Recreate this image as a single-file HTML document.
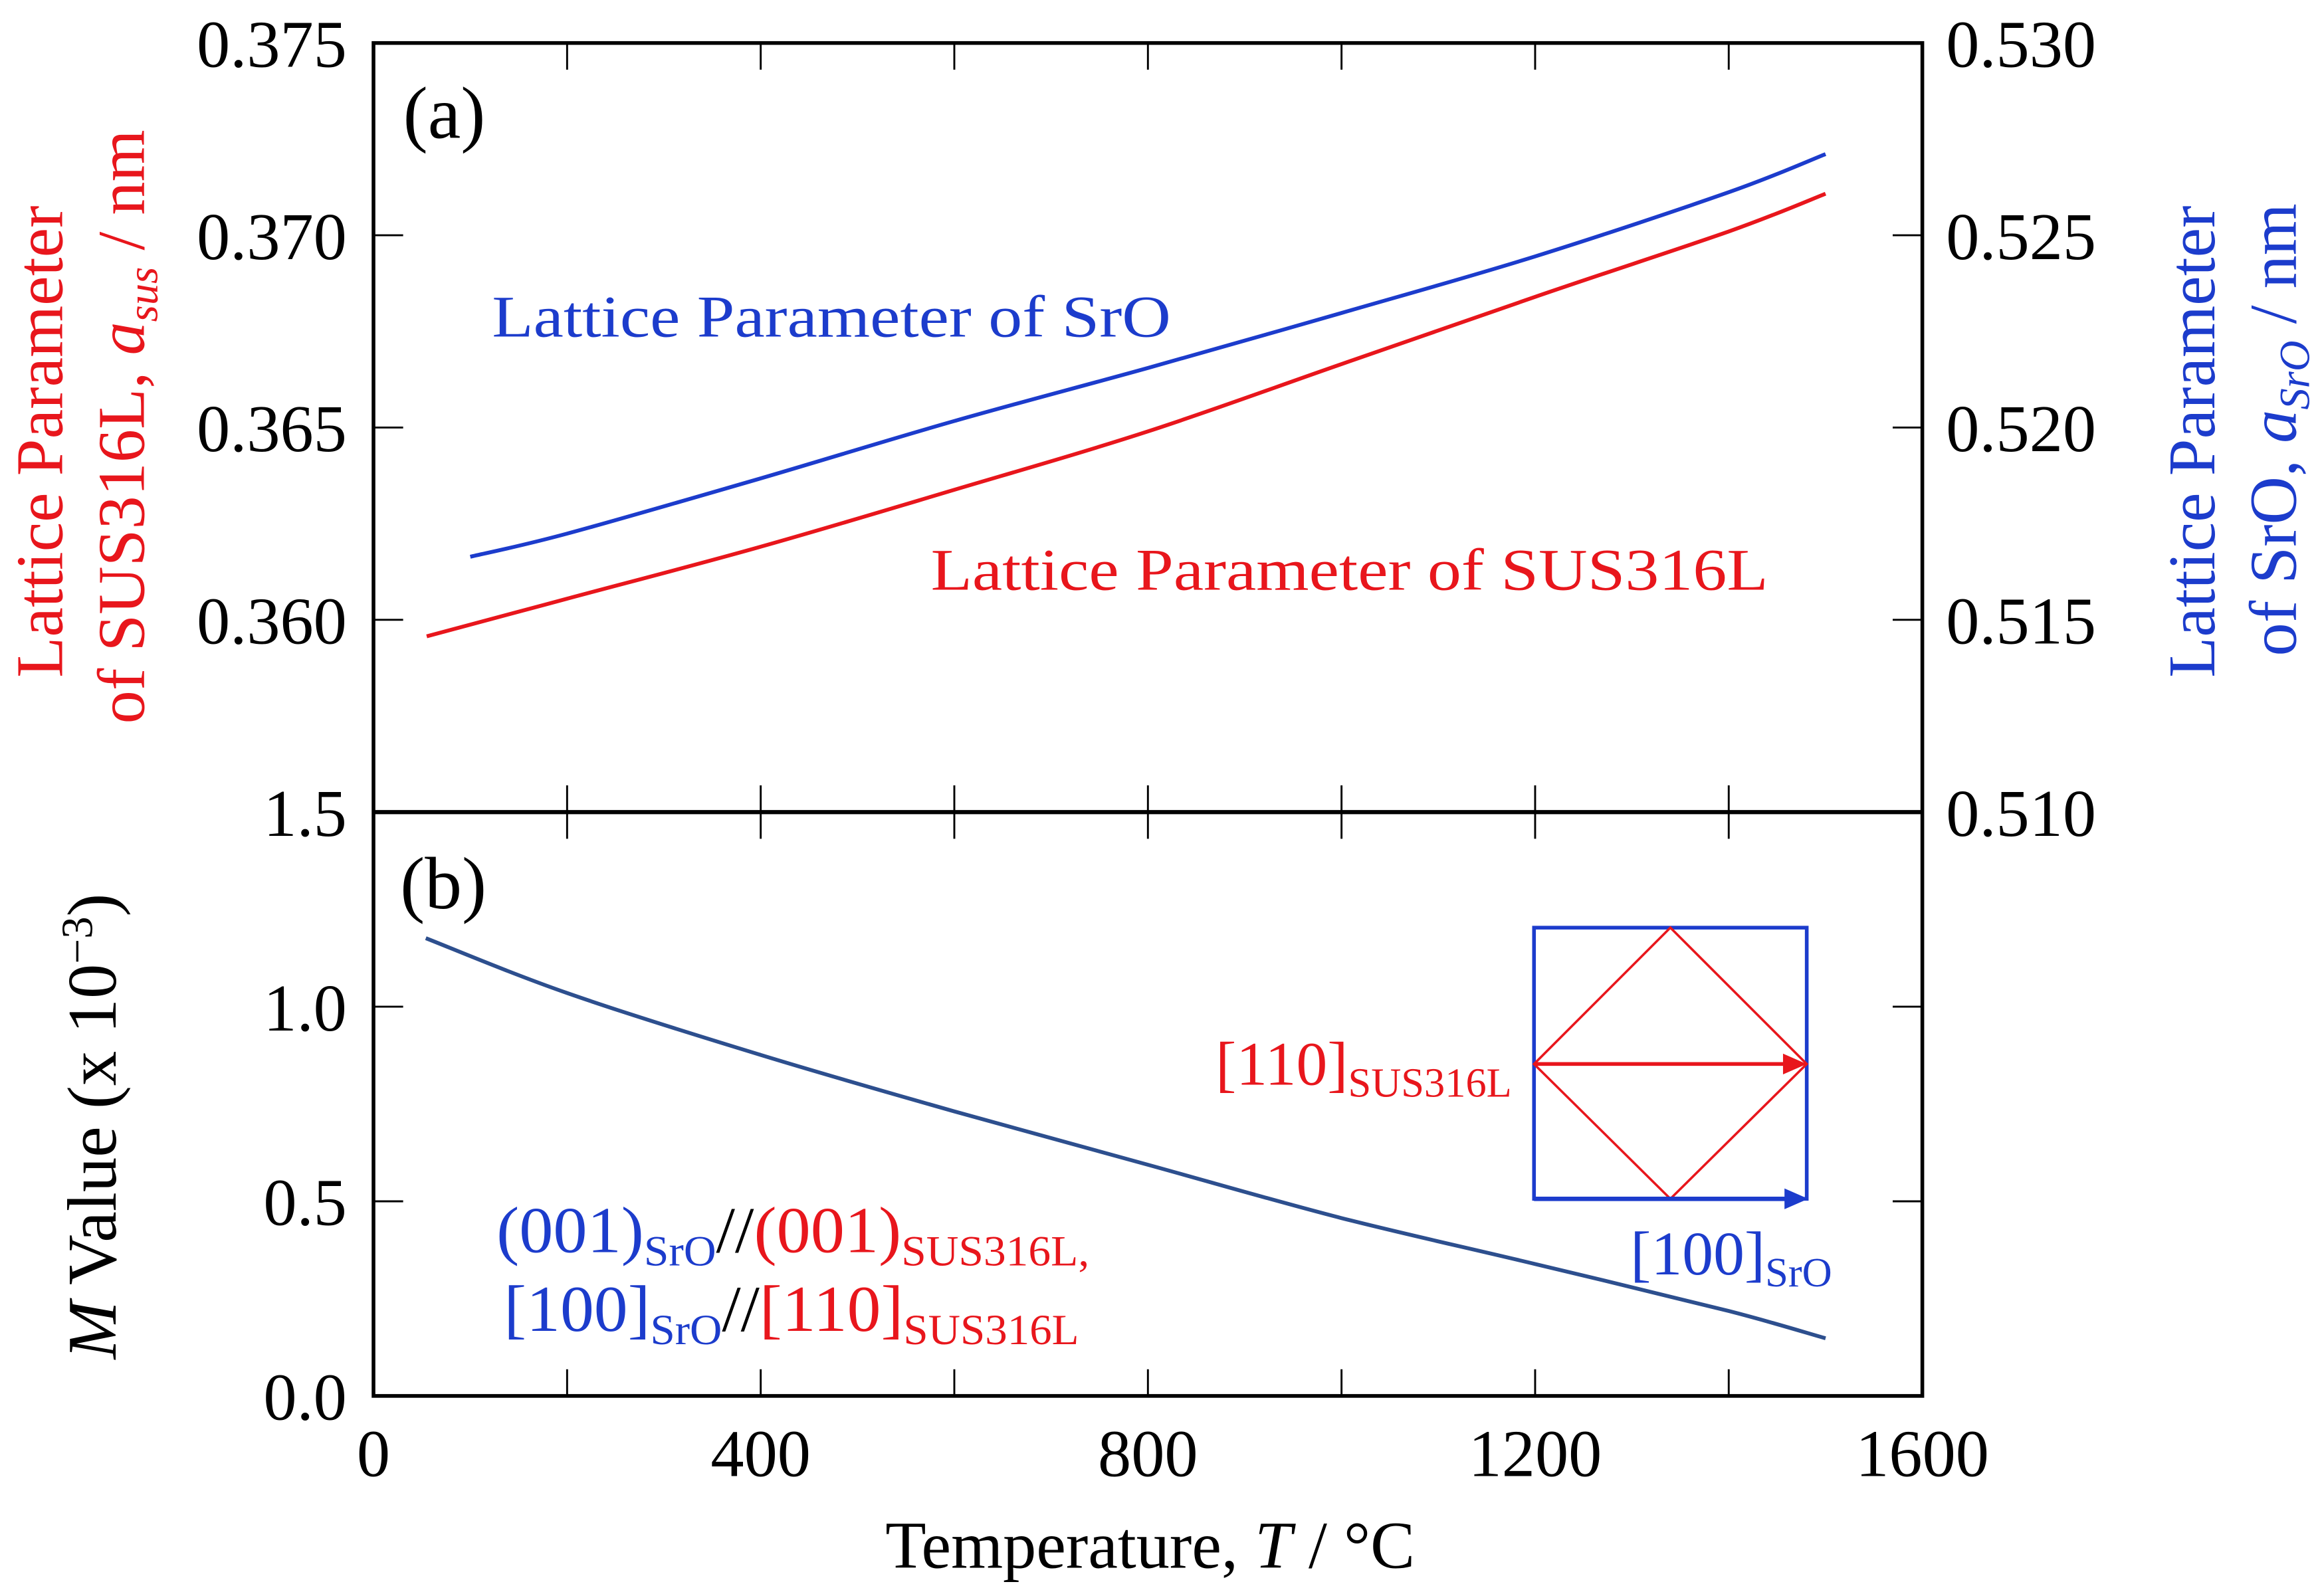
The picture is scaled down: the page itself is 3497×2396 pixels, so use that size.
<!DOCTYPE html>
<html><head><meta charset="utf-8"><style>
html,body{margin:0;padding:0;background:#fff;}
svg{display:block;}
text{font-family:"Liberation Serif",serif;}
</style></head><body>
<svg id="chart" xmlns="http://www.w3.org/2000/svg" width="3497" height="2396" viewBox="0 0 1568 1074.3">
<g id="axes"></g>
<g id="marks"></g>
<g><text x="272" y="93" font-size="50">(a)</text></g>
<g><text x="270" y="613" font-size="50">(b)</text></g>
<text x="332" y="227" font-size="40" textLength="458" lengthAdjust="spacingAndGlyphs" fill="#1c3ccc">Lattice Parameter of SrO</text>
<text x="628" y="398" font-size="40" textLength="565" lengthAdjust="spacingAndGlyphs" fill="#e8161c">Lattice Parameter of SUS316L</text>
<text x="335" y="845" font-size="44" textLength="400" lengthAdjust="spacingAndGlyphs"><tspan fill="#1c3ccc">(001)</tspan><tspan fill="#1c3ccc" font-size="29" dy="9">SrO</tspan><tspan dy="-9">//</tspan><tspan fill="#e8161c">(001)</tspan><tspan fill="#e8161c" font-size="29" dy="9">SUS316L,</tspan></text>
<text x="340" y="898" font-size="44" textLength="388" lengthAdjust="spacingAndGlyphs"><tspan fill="#1c3ccc">[100]</tspan><tspan fill="#1c3ccc" font-size="29" dy="9">SrO</tspan><tspan dy="-9">//</tspan><tspan fill="#e8161c">[110]</tspan><tspan fill="#e8161c" font-size="29" dy="9">SUS316L</tspan></text>
<g>
<rect x="1035" y="626" width="184" height="183" fill="none" stroke="#1c3ccc" stroke-width="2.5"/>
<polygon points="1127,626 1219,718 1127,809 1035,718" fill="none" stroke="#e8161c" stroke-width="1.6"/>
<line x1="1035" y1="718" x2="1207" y2="718" stroke="#e8161c" stroke-width="2.5"/>
<polygon points="1219,718 1203,711 1203,725" fill="#e8161c"/>
<line x1="1035" y1="809" x2="1207" y2="809" stroke="#1c3ccc" stroke-width="3"/>
<polygon points="1220,809 1204,802 1204,816" fill="#1c3ccc"/>
<text x="1020" y="732" font-size="42" text-anchor="end" fill="#e8161c">[110]<tspan font-size="28" dy="8">SUS316L</tspan></text>
<text x="1100" y="860" font-size="42" fill="#1c3ccc">[100]<tspan font-size="28" dy="8">SrO</tspan></text>
</g>
<text transform="translate(42,298) rotate(-90)" font-size="45" text-anchor="middle" fill="#e8161c">Lattice Parameter</text>
<text transform="translate(97,288) rotate(-90)" font-size="45" text-anchor="middle" fill="#e8161c">of SUS316L, <tspan font-style="italic">a</tspan><tspan font-style="italic" font-size="29" dy="9">sus</tspan><tspan dy="-9"> / nm</tspan></text>
<text transform="translate(78,760) rotate(-90)" font-size="47" text-anchor="middle"><tspan font-style="italic">M</tspan>  Value (x 10<tspan font-size="30" dy="-16">−3</tspan><tspan dy="16">)</tspan></text>
<text transform="translate(1494,298) rotate(-90)" font-size="45" text-anchor="middle" fill="#1c3ccc">Lattice Parameter</text>
<text transform="translate(1549,290) rotate(-90)" font-size="45" text-anchor="middle" fill="#1c3ccc">of SrO, <tspan font-style="italic">a</tspan><tspan font-style="italic" font-size="29" dy="9">SrO</tspan><tspan dy="-9"> / nm</tspan></text>
<text x="776" y="1058" font-size="45" text-anchor="middle">Temperature, <tspan font-style="italic">T</tspan> / °C</text>
</svg>
<script>
const temps = [55, 200, 400, 600, 800, 1000, 1200, 1400, 1500];
const susValues = [0.35957, 0.36055, 0.36190, 0.36338, 0.36490, 0.36665, 0.36840, 0.37010, 0.37108];
const sroTemps = [100, 200, 400, 600, 800, 1000, 1200, 1400, 1500];
const sroValues = [0.51664, 0.51724, 0.51868, 0.52017, 0.52155, 0.52298, 0.52445, 0.52612, 0.52711];
const mTemps = [54, 200, 400, 600, 800, 1000, 1200, 1400, 1500];
const mValues = [1.176, 1.035, 0.876, 0.731, 0.594, 0.457, 0.339, 0.218, 0.148];
const xTicks = [0, 400, 800, 1200, 1600];
const xMinor = [200, 600, 1000, 1400];
const leftTicks = ["0.375", "0.370", "0.365", "0.360"];
const rightTicks = ["0.530", "0.525", "0.520", "0.515", "0.510"];
const mTicks = ["1.5", "1.0", "0.5", "0.0"];

const L=252,R=1297,T=29,M=548,B=942;
const NS="http://www.w3.org/2000/svg";
const sx=t=>L+(t/1600)*(R-L);
const syL=v=>T+(0.375-v)/0.020*(M-T);
const syR=v=>T+(0.530-v)/0.020*(M-T);
const syM=v=>M+(1.5-v)/1.5*(B-M);
const axes=document.getElementById('axes'), marks=document.getElementById('marks');
function mk(tag,attrs,parent){const e=document.createElementNS(NS,tag);for(const k in attrs)e.setAttribute(k,attrs[k]);parent.appendChild(e);return e;}

const frame=mk('rect',{x:L,y:T,width:R-L,height:B-T,fill:'none',stroke:'#000','stroke-width':2.5},axes);


const divider=mk('line',{x1:L,y1:M,x2:R,y2:M,stroke:'#000','stroke-width':2.8},axes);



xTicks.concat(xMinor).forEach(t=>{
  [[T,T+18],[M-18,M+18],[B-18,B]].forEach(([a,b])=>{
    const l=mk('line',{x1:sx(t),y1:a,x2:sx(t),y2:b,stroke:'#000','stroke-width':1.3},axes);
    
    
  });
});
xTicks.forEach(t=>{
  const tx=mk('text',{x:sx(t),y:996,'font-size':45,'text-anchor':'middle'},axes);
  tx.textContent=t;
  
  
});
leftTicks.forEach(s=>{
  const y=syL(parseFloat(s));
  const l=mk('line',{x1:L,y1:y,x2:L+20,y2:y,stroke:'#000','stroke-width':1.3},axes);
  
  
  const tx=mk('text',{x:L-18,y:y+16,'font-size':45,'text-anchor':'end'},axes);
  tx.textContent=s;
  
  
});
rightTicks.forEach(s=>{
  const y=syR(parseFloat(s));
  const l=mk('line',{x1:R-20,y1:y,x2:R,y2:y,stroke:'#000','stroke-width':1.3},axes);
  
  
  const tx=mk('text',{x:R+16,y:y+16,'font-size':45,'text-anchor':'start'},axes);
  tx.textContent=s;
  
  
});
mTicks.forEach(s=>{
  const y=syM(parseFloat(s));
  [[L,L+20],[R-20,R]].forEach(([a,b])=>{
    const l=mk('line',{x1:a,y1:y,x2:b,y2:y,stroke:'#000','stroke-width':1.3},axes);
    
    
  });
  const tx=mk('text',{x:L-18,y:y+16,'font-size':45,'text-anchor':'end'},axes);
  tx.textContent=s;
  
  
});
function smoothPath(pts){
  let d='M'+pts[0][0].toFixed(1)+','+pts[0][1].toFixed(1);
  for(let i=0;i<pts.length-1;i++){
    const p0=pts[Math.max(0,i-1)],p1=pts[i],p2=pts[i+1],p3=pts[Math.min(pts.length-1,i+2)];
    const c1=[p1[0]+(p2[0]-p0[0])/6,p1[1]+(p2[1]-p0[1])/6];
    const c2=[p2[0]-(p3[0]-p1[0])/6,p2[1]-(p3[1]-p1[1])/6];
    d+=' C'+c1[0].toFixed(1)+','+c1[1].toFixed(1)+' '+c2[0].toFixed(1)+','+c2[1].toFixed(1)+' '+p2[0].toFixed(1)+','+p2[1].toFixed(1);
  }
  return d;
}
function line(xs,ys,fy,color,name){
  const pts=xs.map((t,i)=>[sx(t),fy(ys[i])]);
  const p=mk('path',{d:smoothPath(pts),fill:'none',stroke:color,'stroke-width':2.6,'stroke-linejoin':'round'},marks);
  
  
}
line(temps,susValues,syL,'#e8161c','sus316l-line');
line(sroTemps,sroValues,syR,'#1c3ccc','sro-line');
line(mTemps,mValues,syM,'#2d4f8e','m-value-line');
</script>
</body></html>
